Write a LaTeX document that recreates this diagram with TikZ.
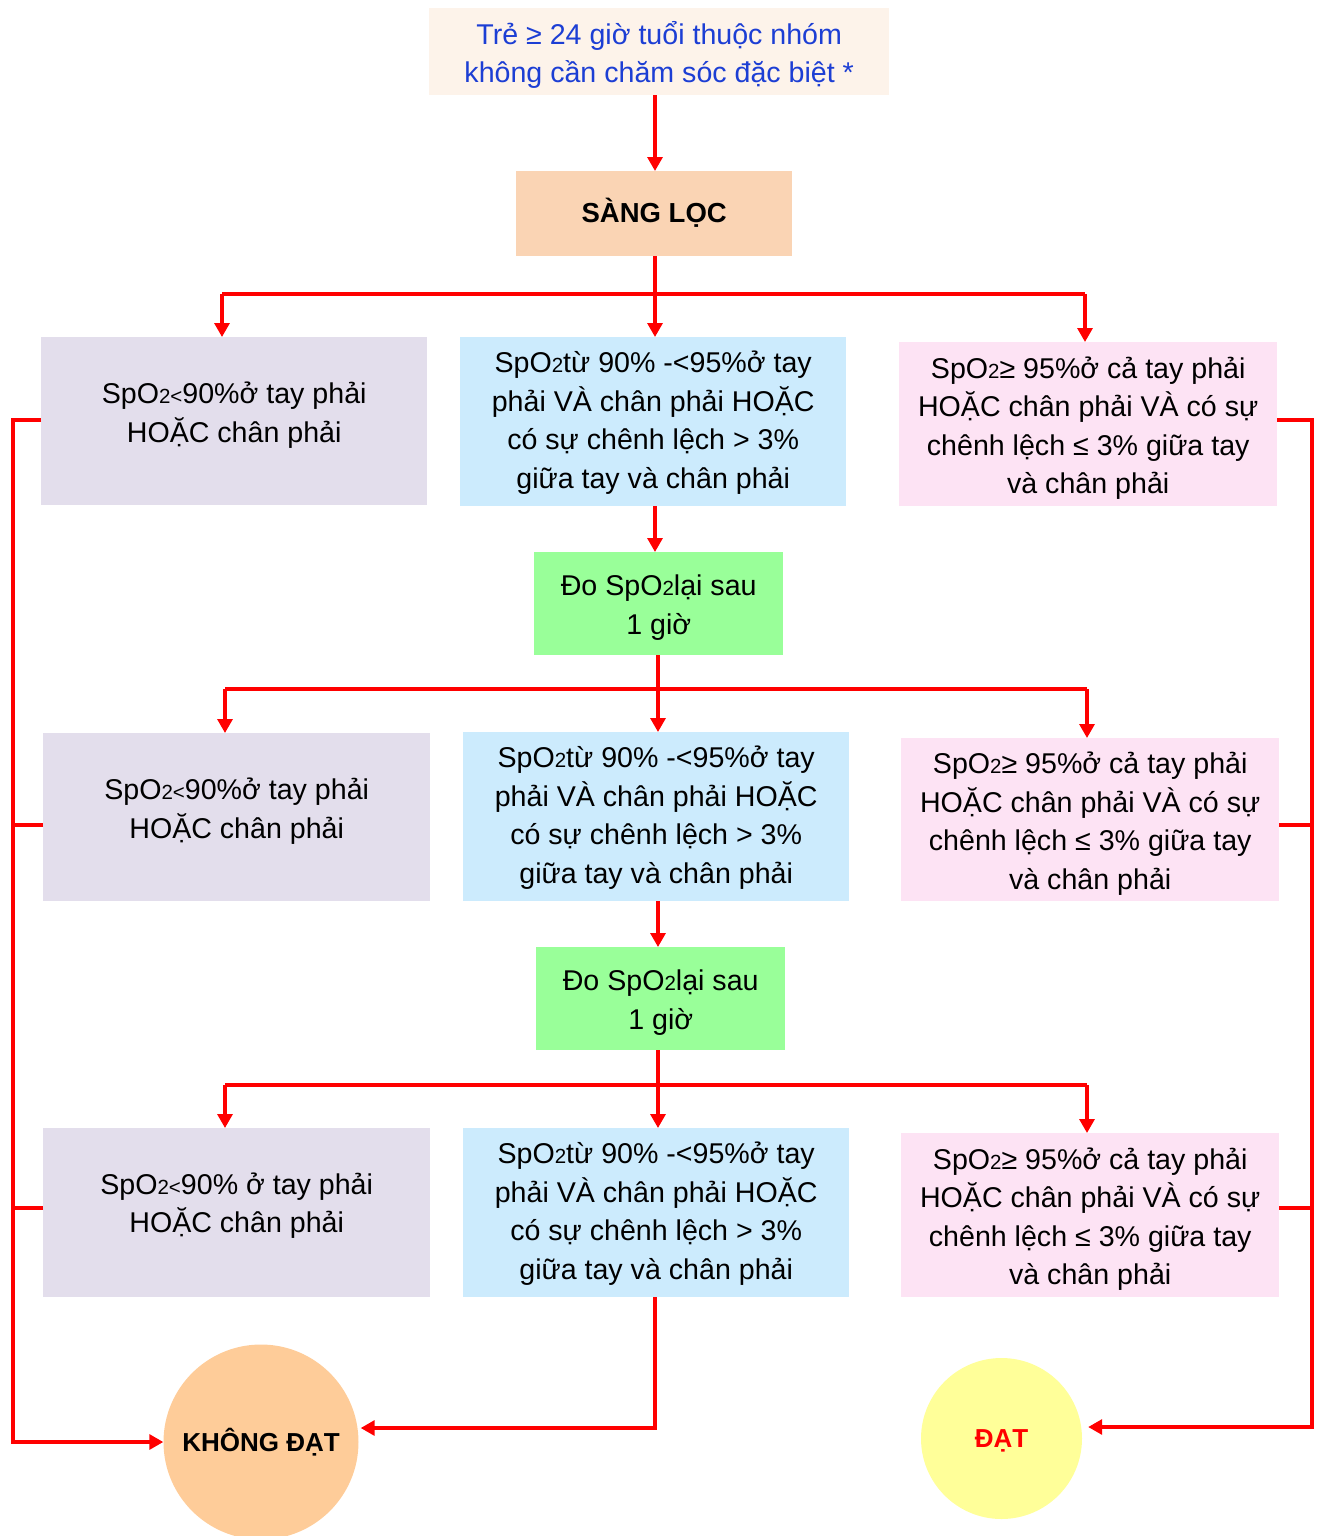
\documentclass[tikz,border=0pt]{standalone}
\usepackage{fontspec}
\setmainfont{Liberation Sans}
\usetikzlibrary{arrows.meta}
\definecolor{topfill}{HTML}{FDF3EA}
\definecolor{topblue}{RGB}{28,62,212}
\definecolor{sangfill}{HTML}{FAD4B4}
\definecolor{lfill}{HTML}{E3DEEC}
\definecolor{mfill}{HTML}{CCEBFD}
\definecolor{rfill}{HTML}{FDE3F4}
\definecolor{gfill}{HTML}{99FF99}
\definecolor{kfill}{HTML}{FECC99}
\definecolor{dfill}{HTML}{FFFF99}
\newcommand{\sm}[1]{{\fontsize{20.5}{20}\selectfont #1}}
\begin{document}
\begin{tikzpicture}[x=1pt,y=-1pt,
  bx/.style={rectangle, inner sep=0pt, draw=none, anchor=north west},
  txt/.style={align=center, inner sep=0pt, font=\fontsize{28.6}{38.4}\selectfont},
  con/.style={draw=red, line width=3.2pt},
  arr/.style={con, -{Triangle[length=14pt,width=15pt]}}]
\useasboundingbox (0,0) rectangle (1319,1536);
% top
\node[bx, fill=topfill, minimum width=460pt, minimum height=87pt] (top) at (429,8) {};
\node[txt, text=topblue] (toptxt) at ([yshift=-3pt]top.center) {Trẻ ≥ 24 giờ tuổi thuộc nhóm\\không cần chăm sóc đặc biệt *};
\node[bx, fill=sangfill, minimum width=276pt, minimum height=85pt] (sang) at (516,171) {};
\node[font=\fontsize{27.5}{30}\bfseries\selectfont] (sangtxt) at ([yshift=1pt]sang.center) {SÀNG LỌC};
% row 1
\node[bx, fill=lfill, minimum width=386pt, minimum height=168pt] (l1) at (41,337) {};
\node[txt] (l1t) at ([yshift=6pt]l1.center) {SpO\sm{2<}90\%ở tay phải\\HOẶC chân phải};
\node[bx, fill=mfill, minimum width=386pt, minimum height=169pt] (m1) at (460,337) {};
\node[txt] (m1t) at ([yshift=-1pt]m1.center) {SpO\sm{2}từ 90\% -<95\%ở tay\\phải VÀ chân phải HOẶC\\có sự chênh lệch > 3\%\\giữa tay và chân phải};
\node[bx, fill=rfill, minimum width=378pt, minimum height=164pt] (r1) at (899,342) {};
\node[txt] (r1t) at ([yshift=-4pt]r1.center) {SpO\sm{2}≥ 95\%ở cả tay phải\\HOẶC chân phải VÀ có sự\\chênh lệch ≤ 3\% giữa tay\\và chân phải};
\node[bx, fill=gfill, minimum width=249pt, minimum height=103pt] (g1) at (534,552) {};
\node[txt] (g1t) at ([yshift=-4pt]g1.center) {Đo SpO\sm{2}lại sau\\1 giờ};
% row 2
\node[bx, fill=lfill, minimum width=387pt, minimum height=168pt] (l2) at (43,733) {};
\node[txt] (l2t) at ([yshift=6pt]l2.center) {SpO\sm{2<}90\%ở tay phải\\HOẶC chân phải};
\node[bx, fill=mfill, minimum width=386pt, minimum height=169pt] (m2) at (463,732) {};
\node[txt] (m2t) at ([yshift=-1pt]m2.center) {SpO\sm{2}từ 90\% -<95\%ở tay\\phải VÀ chân phải HOẶC\\có sự chênh lệch > 3\%\\giữa tay và chân phải};
\node[bx, fill=rfill, minimum width=378pt, minimum height=163pt] (r2) at (901,738) {};
\node[txt] (r2t) at ([yshift=-4pt]r2.center) {SpO\sm{2}≥ 95\%ở cả tay phải\\HOẶC chân phải VÀ có sự\\chênh lệch ≤ 3\% giữa tay\\và chân phải};
\node[bx, fill=gfill, minimum width=249pt, minimum height=103pt] (g2) at (536,947) {};
\node[txt] (g2t) at ([yshift=-4pt]g2.center) {Đo SpO\sm{2}lại sau\\1 giờ};
% row 3
\node[bx, fill=lfill, minimum width=387pt, minimum height=169pt] (l3) at (43,1128) {};
\node[txt] (l3t) at ([yshift=7pt]l3.center) {SpO\sm{2<}90\% ở tay phải\\HOẶC chân phải};
\node[bx, fill=mfill, minimum width=386pt, minimum height=169pt] (m3) at (463,1128) {};
\node[txt] (m3t) at ([yshift=-1pt]m3.center) {SpO\sm{2}từ 90\% -<95\%ở tay\\phải VÀ chân phải HOẶC\\có sự chênh lệch > 3\%\\giữa tay và chân phải};
\node[bx, fill=rfill, minimum width=378pt, minimum height=164pt] (r3) at (901,1133) {};
\node[txt] (r3t) at ([yshift=-4pt]r3.center) {SpO\sm{2}≥ 95\%ở cả tay phải\\HOẶC chân phải VÀ có sự\\chênh lệch ≤ 3\% giữa tay\\và chân phải};
% results
\node[circle, fill=kfill, minimum size=195pt, inner sep=0pt] (khong) at (261,1442) {};
\node[font=\fontsize{26}{30}\bfseries\selectfont] (khongt) at (khong.center) {KHÔNG ĐẠT};
\node[circle, fill=dfill, minimum size=161pt, inner sep=0pt] (dat) at (1001.5,1438.5) {};
\node[font=\fontsize{26}{30}\bfseries\selectfont, text=red] (datt) at ([yshift=-2pt]dat.center) {ĐẠT};
% coordinates
\coordinate (j1) at (655,294);
\coordinate (h1l) at (222,294);
\coordinate (h1r) at (1085,294);
\coordinate (j2) at (658,689);
\coordinate (h2l) at (225,689);
\coordinate (h2r) at (1087,689);
\coordinate (j3) at (658,1085);
\coordinate (h3l) at (225,1085);
\coordinate (h3r) at (1087,1085);
\coordinate (rl1) at (13,420);
\coordinate (rl2) at (13,825);
\coordinate (rl3) at (13,1208);
\coordinate (rr1) at (1312,420);
\coordinate (rr2) at (1312,825);
\coordinate (rr3) at (1312,1208);
\coordinate (mb) at (655,1428);
% connectors
\draw[arr] (top.south -| j1) -- (sang.north -| j1);
\draw[con] (sang.south -| j1) -- (j1);
\draw[con] (h1l) -- (h1r);
\draw[arr] (h1l) -- (h1l |- l1.north);
\draw[arr] (j1) -- (j1 |- m1.north);
\draw[arr] (h1r) -- (h1r |- r1.north);
\draw[arr] (m1.south -| j1) -- (g1.north -| j1);
\draw[con] (g1.south -| j2) -- (j2);
\draw[con] (h2l) -- (h2r);
\draw[arr] (h2l) -- (h2l |- l2.north);
\draw[arr] (j2) -- (j2 |- m2.north);
\draw[arr] (h2r) -- (h2r |- r2.north);
\draw[arr] (m2.south -| j2) -- (g2.north -| j2);
\draw[con] (g2.south -| j3) -- (j3);
\draw[con] (h3l) -- (h3r);
\draw[arr] (h3l) -- (h3l |- l3.north);
\draw[arr] (j3) -- (j3 |- m3.north);
\draw[arr] (h3r) -- (h3r |- r3.north);
% left rail
\draw[arr] (l1.west |- rl1) -- (rl1) |- (khong.west);
\draw[con] (l2.west |- rl2) -- (rl2);
\draw[con] (l3.west |- rl3) -- (rl3);
% right rail
\draw[arr] (r1.east |- rr1) -- (rr1) |- ([xshift=6pt]dat.east |- 0,1427);
\draw[con] (r2.east |- rr2) -- (rr2);
\draw[con] (r3.east |- rr3) -- (rr3);
% middle bottom
\draw[arr] (m3.south -| mb) -- (mb) -- ([xshift=2pt]khong.east |- mb);
\end{tikzpicture}
\end{document}
